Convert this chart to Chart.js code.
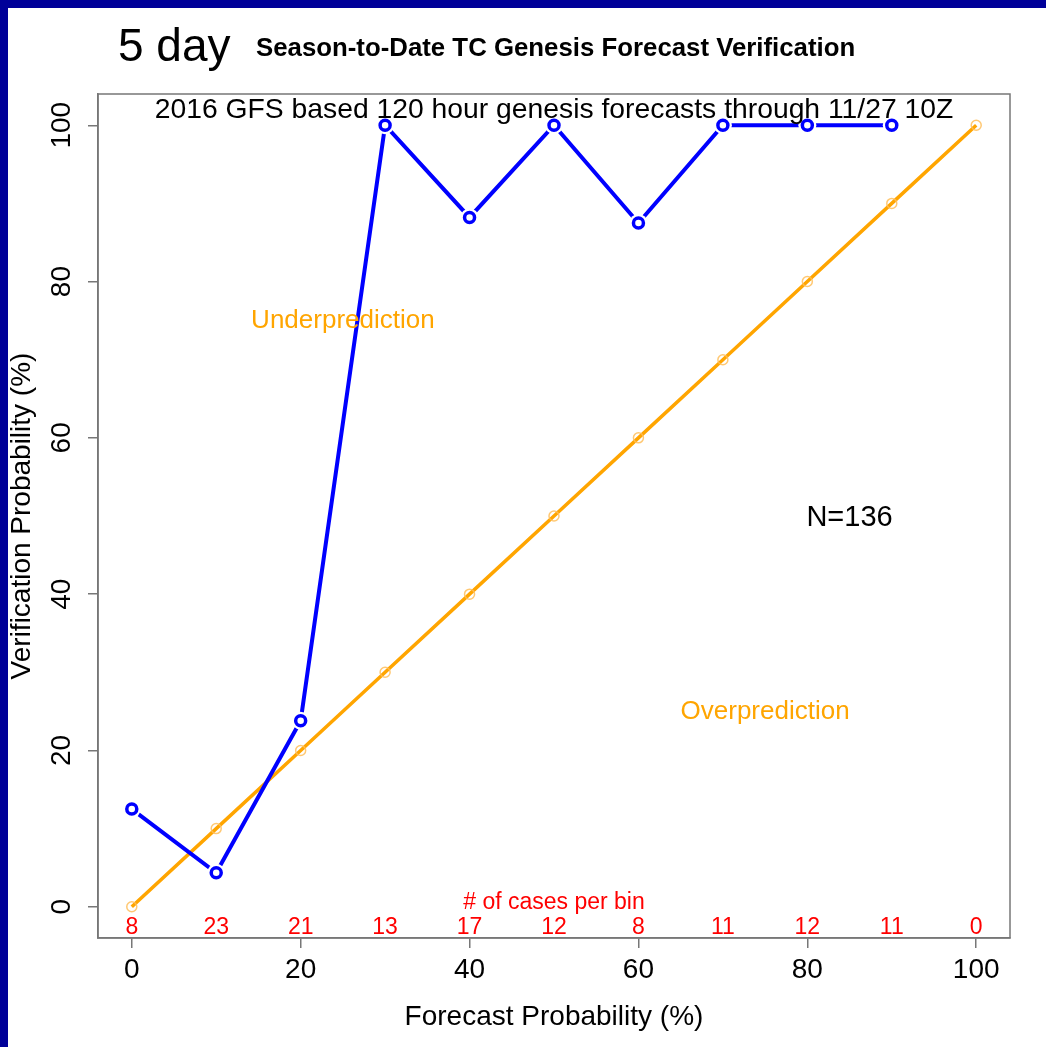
<!DOCTYPE html>
<html>
<head>
<meta charset="utf-8">
<script src="https://cdn.jsdelivr.net/npm/chart.js@4.4.0/dist/chart.umd.min.js"></script>
<style>
  html, body { margin: 0; padding: 0; background: #fff; }
  #wrap { width: 1046px; height: 1047px; position: relative; }
</style>
</head>
<body>
<div id="wrap"><canvas id="myChart" width="1046" height="1047"></canvas></div>
<script>
// forecast bins and observed genesis frequency (%)
var binLabels = [0, 10, 20, 30, 40, 50, 60, 70, 80, 90];
var verifPct = [12.5, 4.35, 23.8, 100, 88.2, 100, 87.5, 100, 100, 100];
// perfect reliability line
var diagX = [0, 10, 20, 30, 40, 50, 60, 70, 80, 90, 100];
var diagY = [0, 10, 20, 30, 40, 50, 60, 70, 80, 90, 100];
// number of cases per bin
var countX = [0, 10, 20, 30, 40, 50, 60, 70, 80, 90, 100];
var caseCounts = [8, 23, 21, 13, 17, 12, 8, 11, 12, 11, 0];
var tickVals = [0, 20, 40, 60, 80, 100];

var FONT = "'Liberation Sans', Arial, Helvetica, sans-serif";
var AXIS_GREY = "#777777";

function pts(xs, ys) {
  var out = [];
  for (var i = 0; i < xs.length; i++) out.push({ x: xs[i], y: ys[i] });
  return out;
}

var extras = {
  id: "extras",
  afterDraw: function(chart) {
    var ctx = chart.ctx;
    var a = chart.chartArea;
    var xs = chart.scales.x;
    var ys = chart.scales.y;
    ctx.save();

    // box round the plot
    ctx.strokeStyle = AXIS_GREY;
    ctx.lineWidth = 1.5;
    ctx.strokeRect(a.left, a.top, a.right - a.left, a.bottom - a.top);

    // y tick labels, rotated like R
    ctx.fillStyle = "#000";
    ctx.font = "28px " + FONT;
    ctx.textAlign = "center";
    ctx.textBaseline = "middle";
    tickVals.forEach(function(v) {
      ctx.save();
      ctx.translate(62, ys.getPixelForValue(v));
      ctx.rotate(-Math.PI / 2);
      ctx.fillText(String(v), 0, 0);
      ctx.restore();
    });

    // counts per bin
    ctx.fillStyle = "#ff0000";
    ctx.font = "23px " + FONT;
    for (var i = 0; i < countX.length; i++) {
      ctx.fillText(String(caseCounts[i]), xs.getPixelForValue(countX[i]), ys.getPixelForValue(-2.4) + 2);
    }
    ctx.fillText("# of cases per bin", xs.getPixelForValue(50), ys.getPixelForValue(0.8) + 2);

    // annotations
    ctx.fillStyle = "#ffa500";
    ctx.font = "26px " + FONT;
    ctx.fillText("Underprediction", xs.getPixelForValue(25), ys.getPixelForValue(75.2) + 2);
    ctx.fillText("Overprediction", xs.getPixelForValue(75), ys.getPixelForValue(25.2) + 2);
    ctx.fillStyle = "#000";
    ctx.font = "29px " + FONT;
    ctx.fillText("N=136", xs.getPixelForValue(85), ys.getPixelForValue(50) + 2);
    ctx.font = "28.3px " + FONT;
    ctx.fillText("2016 GFS based 120 hour genesis forecasts through 11/27 10Z",
      xs.getPixelForValue(50), ys.getPixelForValue(102.2) + 2);

    // titles
    ctx.textAlign = "left";
    ctx.textBaseline = "alphabetic";
    ctx.font = "46px " + FONT;
    ctx.fillText("5 day", 118, 61);
    ctx.font = "bold 25.8px " + FONT;
    ctx.fillText("Season-to-Date TC Genesis Forecast Verification", 256, 56);

    // frame of the slide
    ctx.fillStyle = "#000099";
    ctx.fillRect(0, 0, chart.width, 8);
    ctx.fillRect(0, 0, 8, chart.height);
    ctx.restore();
  }
};

var ctx = document.getElementById("myChart").getContext("2d");
var chart = new Chart(ctx, {
  type: "line",
  data: {
    datasets: [
      {
        // blue line only
        data: pts(binLabels, verifPct),
        borderColor: "#0000ff",
        borderWidth: 4,
        pointRadius: 0,
        fill: false,
        order: 4
      },
      {
        // white halo so the line stops short of the points
        data: pts(binLabels, verifPct),
        showLine: false,
        pointRadius: 9,
        pointBorderWidth: 0,
        pointBackgroundColor: "#ffffff",
        pointBorderColor: "#ffffff",
        order: 3
      },
      {
        data: pts(binLabels, verifPct),
        showLine: false,
        pointRadius: 5,
        pointBorderWidth: 3.5,
        pointBackgroundColor: "rgba(0,0,0,0)",
        pointBorderColor: "#0000ff",
        order: 2
      },
      {
        data: pts(diagX, diagY),
        borderColor: "#ffa500",
        borderWidth: 3.5,
        pointRadius: 5,
        pointBorderWidth: 1.5,
        pointBackgroundColor: "rgba(0,0,0,0)",
        pointBorderColor: "rgba(255,190,90,0.85)",
        fill: false,
        order: 5
      }
    ]
  },
  options: {
    responsive: false,
    animation: false,
    layout: { padding: { left: 0, top: 94, right: 36, bottom: 0 } },
    plugins: { legend: { display: false }, tooltip: { enabled: false } },
    scales: {
      x: {
        type: "linear",
        min: -4,
        max: 104,
        afterBuildTicks: function(s) { s.ticks = tickVals.map(function(v) { return { value: v }; }); },
        afterFit: function(s) { s.height = 109; },
        grid: { drawOnChartArea: false, drawTicks: true, tickLength: 10, color: AXIS_GREY, lineWidth: 1.5 },
        border: { display: true, color: AXIS_GREY, width: 1.5 },
        ticks: { color: "#000", font: { family: FONT, size: 28 }, padding: 5, maxRotation: 0 },
        title: { display: true, text: "Forecast Probability (%)", color: "#000",
                 font: { family: FONT, size: 28 }, padding: { top: 0, bottom: 13 } }
      },
      y: {
        type: "linear",
        min: -4,
        max: 104,
        afterBuildTicks: function(s) { s.ticks = tickVals.map(function(v) { return { value: v }; }); },
        afterFit: function(s) { s.width = 98; },
        grid: { drawOnChartArea: false, drawTicks: true, tickLength: 10, color: AXIS_GREY, lineWidth: 1.5 },
        border: { display: true, color: AXIS_GREY, width: 1.5 },
        ticks: { display: false },
        title: { display: true, text: "Verification Probability (%)", color: "#000",
                 font: { family: FONT, size: 28 }, padding: { top: 5, bottom: 0 } }
      }
    }
  },
  plugins: [extras]
});
</script>
</body>
</html>
